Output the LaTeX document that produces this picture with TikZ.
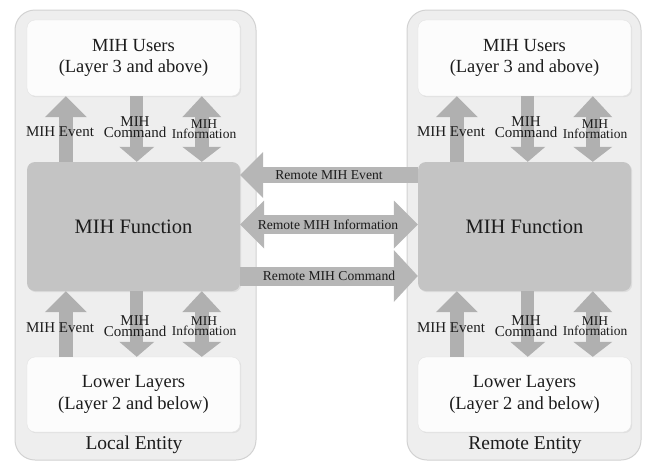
\documentclass[tikz,border=0pt]{standalone}
\usepackage{fontspec}
\setmainfont{Liberation Serif}
\usetikzlibrary{arrows.meta,shadows}
\definecolor{contfill}{HTML}{EEEEEE}
\definecolor{contborder}{HTML}{D2D2D2}
\definecolor{innerfill}{HTML}{FCFCFC}
\definecolor{funfill}{HTML}{C4C4C4}
\definecolor{arrowgray}{HTML}{B0B0B0}
\definecolor{harrowgray}{HTML}{B6B6B6}
\definecolor{txt}{HTML}{1C1C1C}
\begin{document}
\begin{tikzpicture}[x=1pt,y=-1pt,
  container/.style={draw=contborder, line width=1pt, fill=contfill, rounded corners=20pt,
    minimum height=450pt, inner sep=0pt},
  innerbox/.style={draw=contborder!60, line width=0.4pt, fill=innerfill, rounded corners=8pt,
    minimum width=213pt, inner sep=0pt, align=center, text=txt,
    font=\fontsize{18.5}{21.5}\selectfont,
    drop shadow={opacity=0.12, shadow xshift=1.2pt, shadow yshift=-1.2pt}},
  funbox/.style={fill=funfill, rounded corners=8pt, minimum width=213pt, minimum height=129pt,
    inner sep=0pt, text=txt, font=\fontsize{20.5}{24}\selectfont,
    drop shadow={opacity=0.15, shadow xshift=1.2pt, shadow yshift=-1.2pt}},
  entitylabel/.style={text=txt, inner sep=0pt, font=\fontsize{19.5}{22}\selectfont},
  smalllabel/.style={text=txt, inner sep=0pt, align=center, font=\fontsize{15}{11}\selectfont},
  infolabel/.style={text=txt, inner sep=0pt, align=center, font=\fontsize{13.5}{10}\selectfont},
  remotelabel/.style={text=txt, inner sep=0pt, font=\fontsize{13.6}{16}\selectfont},
  evarrow/.style={draw=arrowgray, line width=14pt,
    -{Triangle[width=42pt,length=21pt,line width=0pt]}},
  cmdarrow/.style={draw=arrowgray, line width=13pt,
    -{Triangle[width=35pt,length=15pt,line width=0pt]}},
  infoarrow/.style={draw=arrowgray, line width=14pt,
    {Triangle[width=39pt,length=21pt,line width=0pt]}-{Triangle[width=39pt,length=15pt,line width=0pt]}},
  hevarrow/.style={draw=harrowgray, line width=16pt,
    -{Triangle[width=46pt,length=23pt,line width=0pt]}},
  hinfoarrow/.style={draw=harrowgray, line width=19pt,
    {Triangle[width=48pt,length=24pt,line width=0pt]}-{Triangle[width=48pt,length=24pt,line width=0pt]}},
  hcmdarrow/.style={draw=harrowgray, line width=19pt,
    -{Triangle[width=52pt,length=24pt,line width=0pt]}}
]
\useasboundingbox (0,0) rectangle (651,466);

% containers
\node[container, minimum width=241pt] (le) at (135.5,235) {};
\node[container, minimum width=234pt] (re) at (524,235) {};

% left entity boxes
\node[innerbox, minimum height=76pt] (users1) at (133.5,58) {MIH Users\\(Layer 3 and above)};
\node[funbox] (fun1) at (133.5,226.5) {MIH Function};
\node[innerbox, minimum height=75pt] (lower1) at (133.5,394.5) {Lower Layers\\(Layer 2 and below)};
\node[entitylabel] (lel) at (134,445) {Local Entity};

% right entity boxes
\node[innerbox, minimum height=76pt] (users2) at (524.5,58) {MIH Users\\(Layer 3 and above)};
\node[funbox] (fun2) at (524.5,226.5) {MIH Function};
\node[innerbox, minimum height=75pt] (lower2) at (524.5,394.5) {Lower Layers\\(Layer 2 and below)};
\node[entitylabel] (rel) at (525,445) {Remote Entity};

% vertical arrows, left
\draw[evarrow] ([xshift=39pt]fun1.north west) -- ([xshift=39pt]users1.south west);
\draw[cmdarrow] ([xshift=110pt]users1.south west) -- ([xshift=110pt]fun1.north west);
\draw[infoarrow] ([xshift=175pt]users1.south west) -- ([xshift=175pt]fun1.north west);
\draw[evarrow] ([xshift=39pt]lower1.north west) -- ([xshift=39pt]fun1.south west);
\draw[cmdarrow] ([xshift=110pt]fun1.south west) -- ([xshift=110pt]lower1.north west);
\draw[infoarrow] ([xshift=175pt]fun1.south west) -- ([xshift=175pt]lower1.north west);

% vertical arrows, right
\draw[evarrow] ([xshift=39pt]fun2.north west) -- ([xshift=39pt]users2.south west);
\draw[cmdarrow] ([xshift=110pt]users2.south west) -- ([xshift=110pt]fun2.north west);
\draw[infoarrow] ([xshift=175pt]users2.south west) -- ([xshift=175pt]fun2.north west);
\draw[evarrow] ([xshift=39pt]lower2.north west) -- ([xshift=39pt]fun2.south west);
\draw[cmdarrow] ([xshift=110pt]fun2.south west) -- ([xshift=110pt]lower2.north west);
\draw[infoarrow] ([xshift=175pt]fun2.south west) -- ([xshift=175pt]lower2.north west);

% horizontal arrows
\draw[hevarrow] ([yshift=51.5pt]fun2.west) -- ([yshift=51.5pt]fun1.east);
\draw[hinfoarrow] ([yshift=2pt]fun1.east) -- ([yshift=2pt]fun2.west);
\draw[hcmdarrow] ([yshift=-49.5pt]fun1.east) -- ([yshift=-49.5pt]fun2.west);

% labels on vertical arrows, left
\node[smalllabel] (ev1u) at (60,132) {MIH Event};
\node[smalllabel] (cm1u) at (135,127) {MIH\\Command};
\node[infolabel] (in1u) at (204,129.5) {MIH\\Information};
\node[smalllabel] (ev1d) at (60,328) {MIH Event};
\node[smalllabel] (cm1d) at (135,326) {MIH\\Command};
\node[infolabel] (in1d) at (204,326.5) {MIH\\Information};

% labels on vertical arrows, right
\node[smalllabel] (ev2u) at (451,132) {MIH Event};
\node[smalllabel] (cm2u) at (526,127) {MIH\\Command};
\node[infolabel] (in2u) at (595,129.5) {MIH\\Information};
\node[smalllabel] (ev2d) at (451,328) {MIH Event};
\node[smalllabel] (cm2d) at (526,326) {MIH\\Command};
\node[infolabel] (in2d) at (595,326.5) {MIH\\Information};

% labels on horizontal arrows
\node[remotelabel] (rev) at (329,175) {Remote MIH Event};
\node[remotelabel] (rin) at (328,225) {Remote MIH Information};
\node[remotelabel] (rcm) at (329,276) {Remote MIH Command};
\end{tikzpicture}
\end{document}
